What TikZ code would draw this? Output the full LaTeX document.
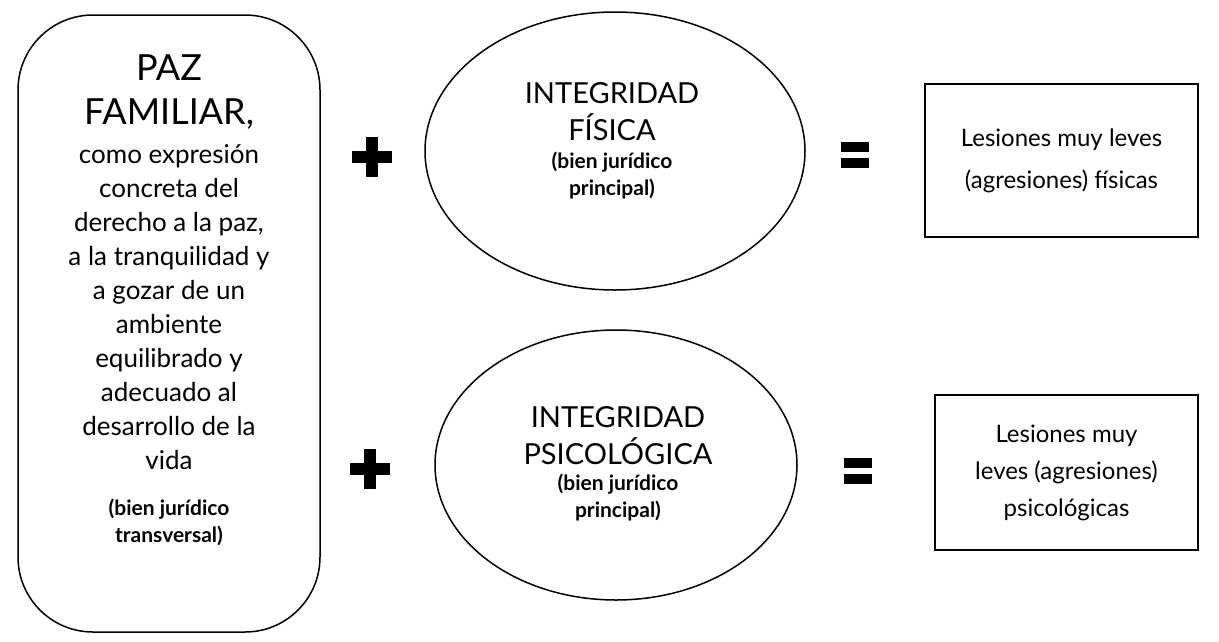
\documentclass[tikz,border=0pt]{standalone}
\usepackage{fontspec}
\setmainfont{Lato}
\usetikzlibrary{shapes.geometric}
\begin{document}
\begin{tikzpicture}[x=1pt,y=-1pt,
  txt/.style={align=center,font=\fontsize{26}{34}\selectfont},
  sm/.style={font=\bfseries\fontsize{21}{27}\selectfont},
  ell/.style={draw,line width=1.5pt,ellipse,inner sep=0pt},
  box/.style={draw,line width=1.2pt,inner sep=0pt}]
\useasboundingbox (0,0) rectangle (1219,641);
\node[draw,line width=1.5pt,rounded corners=75pt,minimum width=302pt,minimum height=617pt] (paz) at (169,323.5) {};
\node[align=center,font=\fontsize{36}{44}\selectfont] (pazh) at (169,92) {PAZ\\FAMILIAR,};
\node[txt,align=center] (pazt) at (169,307) {como expresión\\concreta del\\derecho a la paz,\\a la tranquilidad y\\a gozar de un\\ambiente\\equilibrado y\\adecuado al\\desarrollo de la\\vida};
\node[sm,align=center] (pazb) at (169,522) {(bien jurídico\\transversal)};
\node[ell,minimum width=380pt,minimum height=278pt] (e1) at (615,151) {};
\node[align=center,font=\fontsize{29}{37}\selectfont] (e1t) at (612,112) {INTEGRIDAD\\FÍSICA};
\node[sm,align=center] (e1b) at (612,176) {(bien jurídico\\principal)};
\node[ell,minimum width=362pt,minimum height=270pt] (e2) at (616,465) {};
\node[align=center,font=\fontsize{29}{37}\selectfont] (e2t) at (618,436) {INTEGRIDAD\\PSICOLÓGICA};
\node[sm,align=center] (e2b) at (618,498) {(bien jurídico\\principal)};
\node[box,minimum width=273pt,minimum height=153pt] (b1) at (1061.5,160.5) {};
\node[align=center,font=\fontsize{24}{42}\selectfont] (b1t) at (1061.5,161) {Lesiones muy leves\\(agresiones) físicas};
\node[box,minimum width=263pt,minimum height=155pt] (b2) at (1066.5,472.5) {};
\node[align=center,font=\fontsize{24}{37}\selectfont] (b2t) at (1066.5,473) {Lesiones muy\\leves (agresiones)\\psicológicas};
\foreach \n/\x/\y in {p1/372/157,p2/370/469}{
  \coordinate (\n) at (\x,\y);
  \fill (\n) ++(-20,-6) rectangle ++(40,12);
  \fill (\n) ++(-6,-20) rectangle ++(12,40);
}
\foreach \n/\x/\y in {q1/855/155,q2/858/471}{
  \coordinate (\n) at (\x,\y);
  \fill (\n) ++(-14,-13) rectangle ++(28,10);
  \fill (\n) ++(-14,3) rectangle ++(28,10);
}
\end{tikzpicture}
\end{document}
